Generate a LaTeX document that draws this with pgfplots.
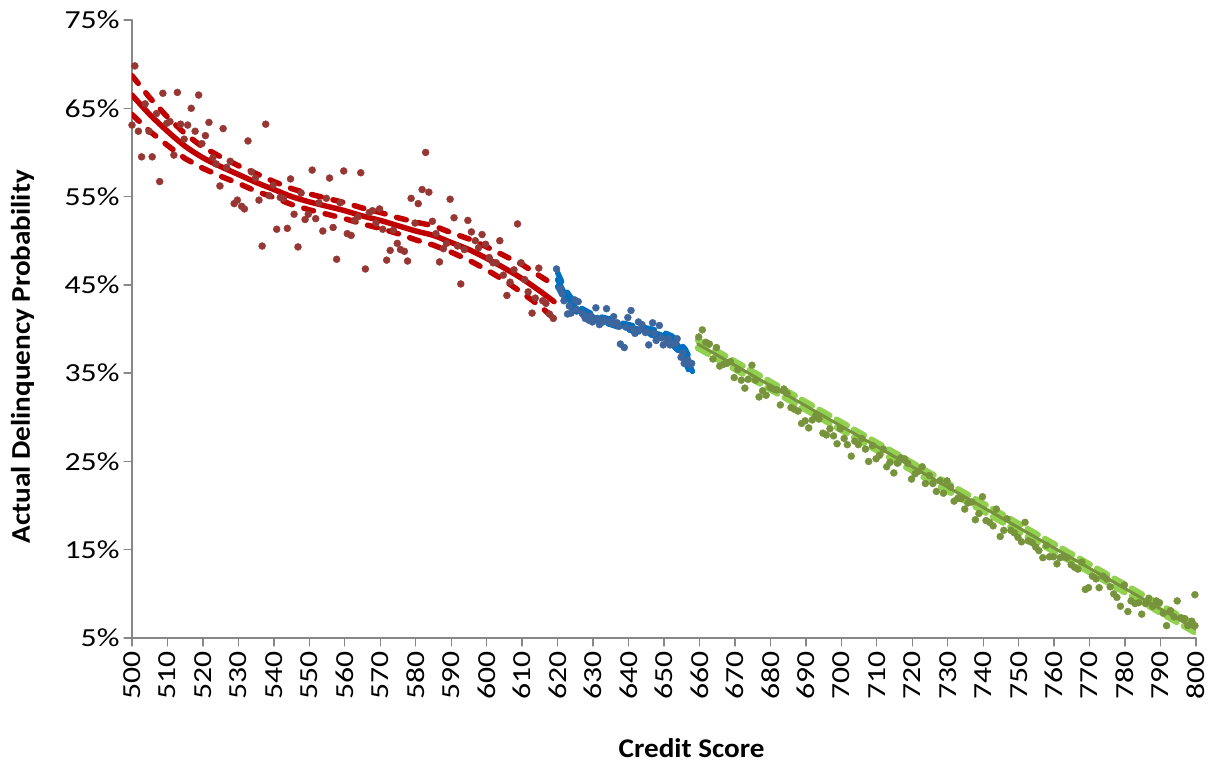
\documentclass[border=0pt]{standalone}
\usepackage{fontspec}
\setmainfont{Carlito}
\newfontfamily\tickfont{Carlito}[FakeStretch=1.22]
\newfontfamily\labfont{Carlito}[FakeStretch=1.08]
\usepackage{pgfplots}
\pgfplotsset{compat=1.18}
\usepackage{pgfplotstable}

\definecolor{redpt}{RGB}{150,55,52}
\definecolor{redln}{RGB}{192,0,0}
\definecolor{bluept}{RGB}{62,102,158}
\definecolor{blueln}{RGB}{0,112,192}
\definecolor{greenpt}{RGB}{119,147,60}
\definecolor{greenln}{RGB}{146,208,80}

% scatter: credit score vs actual delinquency (%)
\pgfplotstableread{
x y
500.0 63.1
500.8 69.8
501.8 62.4
502.7 59.5
503.7 65.5
504.8 62.4
505.7 59.5
506.9 64.4
507.8 56.7
508.7 66.7
509.8 63.3
510.7 63.5
511.8 59.7
512.8 66.8
513.7 63.2
514.7 61.5
515.7 63.1
516.7 65.0
517.8 62.4
518.8 66.5
519.7 61.0
520.7 61.9
521.7 63.4
522.8 59.4
523.7 58.7
524.8 56.2
525.7 62.7
526.7 58.3
527.7 59.0
528.8 54.2
529.7 54.6
530.9 53.9
531.7 53.6
532.7 61.3
533.7 57.8
534.8 57.1
535.8 54.6
536.7 49.4
537.7 63.2
538.7 55.1
539.8 56.3
540.8 51.3
541.8 54.9
542.7 54.8
543.8 51.4
544.7 57.0
545.7 53.0
546.8 49.3
547.7 55.4
548.8 52.4
549.7 53.0
550.8 58.0
551.8 52.5
552.7 54.3
553.8 51.1
554.8 54.8
555.7 57.1
556.7 51.5
557.7 47.9
558.7 54.3
559.7 57.9
560.7 50.8
561.8 50.6
562.7 52.3
563.7 52.7
564.5 57.7
565.8 46.8
566.9 53.2
567.8 53.4
568.8 52.0
569.8 53.6
570.7 51.3
571.8 47.8
572.8 48.9
573.7 51.2
574.8 49.7
575.7 49.0
576.8 48.8
577.7 47.7
578.7 54.8
579.8 52.0
580.7 54.2
581.8 55.8
582.8 60.0
583.7 55.5
584.7 52.2
585.7 50.8
586.7 47.6
587.8 49.1
588.7 49.7
589.7 54.7
590.8 52.6
591.8 49.4
592.7 45.1
593.7 49.0
594.7 52.3
595.7 51.0
596.8 50.0
597.7 49.2
598.7 50.7
599.7 49.6
600.7 48.1
601.8 47.5
602.7 47.5
603.7 50.0
604.7 46.1
605.7 43.8
606.6 45.3
607.7 46.7
608.7 51.9
609.7 47.5
610.7 45.6
611.7 44.2
612.8 41.8
613.7 43.5
614.7 46.9
615.8 43.2
616.7 42.9
617.7 41.7
618.8 41.2
}\redpts

\pgfplotstableread{
x y
619.7 46.8
620.7 44.6
621.3 44.0
621.8 43.2
622.8 41.7
623.3 42.6
623.8 41.8
624.8 43.3
625.3 42.2
625.8 43.1
626.9 41.8
627.3 41.6
627.8 41.2
628.8 41.0
629.3 41.5
629.8 40.8
630.8 42.4
631.3 41.2
631.8 40.5
632.8 40.8
633.3 41.0
633.8 42.3
634.8 40.8
635.3 40.6
635.8 41.4
636.8 40.7
637.3 40.3
637.7 38.3
638.8 37.9
639.3 40.2
639.8 41.3
640.7 42.1
641.3 40.0
641.8 39.5
642.8 40.8
643.3 39.9
643.8 40.5
644.8 39.6
645.3 39.7
645.7 38.2
646.8 40.7
647.3 39.5
647.8 38.7
648.7 40.4
649.3 39.0
649.8 38.2
650.8 38.5
651.3 38.9
651.7 38.2
652.8 38.3
653.3 38.4
653.7 38.9
654.8 36.8
655.3 37.3
655.7 36.1
656.7 36.5
657.3 36.0
657.8 36.1
}\bluepts

\pgfplotstableread{
x y
659.8 39.1
660.8 39.9
661.8 38.5
662.8 38.3
663.8 36.6
664.8 37.9
665.7 35.8
666.8 36.0
667.7 36.1
668.7 36.3
669.8 34.5
670.8 35.4
671.8 34.2
672.8 33.3
673.7 34.3
674.8 35.9
675.8 34.2
676.8 32.3
677.8 33.0
678.8 32.5
679.9 33.4
680.8 33.2
681.8 33.1
682.8 31.4
683.8 33.2
684.7 32.7
685.8 31.1
686.8 30.9
687.8 30.7
688.8 29.3
689.8 29.6
690.8 28.8
691.8 29.7
692.8 30.2
693.7 29.8
694.8 28.2
695.8 28.0
696.8 28.7
697.8 27.9
698.8 27.0
699.7 28.7
700.8 27.6
701.7 26.9
702.8 25.6
703.8 27.3
704.8 26.9
705.8 27.6
706.8 26.4
707.7 25.0
708.8 26.8
709.8 25.3
710.8 25.7
711.8 26.4
712.8 24.4
713.7 24.9
714.8 23.7
715.8 24.8
716.8 25.4
717.8 25.3
718.7 24.8
719.8 23.0
720.8 23.6
721.8 23.9
722.8 24.4
723.7 22.5
724.8 23.4
725.8 22.5
726.8 21.6
727.8 22.8
728.8 21.4
729.8 22.8
730.8 22.1
731.8 20.5
732.8 20.8
733.8 20.8
734.8 19.6
735.7 20.3
736.8 20.4
737.8 18.4
738.8 19.1
739.8 21.0
740.8 18.3
741.8 18.1
742.8 17.7
743.7 19.6
744.8 16.5
745.8 17.2
746.7 18.5
747.8 17.2
748.8 16.9
749.8 16.4
750.8 15.9
751.8 18.1
752.7 16.0
753.8 15.8
754.8 15.3
755.7 14.9
756.8 14.1
757.8 15.5
758.7 14.2
759.8 14.2
760.8 13.4
761.7 14.1
762.8 14.2
763.7 14.1
764.8 13.3
765.8 13.0
766.7 12.8
767.8 13.6
768.8 10.5
769.7 10.7
770.8 12.0
771.8 11.7
772.7 10.7
773.8 12.0
774.8 11.7
775.8 10.8
776.8 10.0
777.7 9.6
778.7 8.6
779.8 11.0
780.8 8.0
781.7 9.2
782.8 8.9
783.8 9.0
784.7 7.7
785.8 8.9
786.7 9.5
787.8 8.6
788.8 9.2
789.7 9.0
790.8 7.8
791.7 6.4
792.8 8.1
793.8 7.4
794.7 9.2
795.8 7.3
796.8 7.2
797.7 6.4
798.8 6.9
799.7 9.9
799.7 6.4
}\greenpts

% fitted curves with band limits
\pgfplotstableread{
x y lo hi
500 66.5 64.3 68.7
505 64.3 62.4 66.2
510 62.4 60.8 64.0
515 60.7 59.3 62.1
520 59.4 58.2 60.6
525 58.4 57.3 59.5
530 57.5 56.5 58.5
535 56.6 55.6 57.6
540 55.8 54.9 56.7
545 55.0 54.1 55.9
550 54.4 53.5 55.3
555 53.9 53.0 54.8
560 53.4 52.5 54.3
565 52.8 51.9 53.7
570 52.3 51.4 53.2
575 51.7 50.8 52.6
580 51.1 50.1 52.1
585 50.6 49.5 51.7
590 49.8 48.7 50.9
595 49.0 47.8 50.2
600 48.0 46.7 49.3
605 46.9 45.5 48.3
610 45.7 44.1 47.3
615 44.3 42.6 46.0
619 43.1 41.2 45.0
}\redfit

\pgfplotstableread{
x y lo hi
620 45.6 44.8 46.4
622 44.0 43.4 44.6
624 42.9 42.4 43.4
626 42.1 41.7 42.5
629 41.5 41.15 41.85
632 41.1 40.8 41.4
635 40.8 40.5 41.1
638 40.4 40.1 40.7
641 40.1 39.8 40.4
644 39.9 39.6 40.2
647 39.6 39.25 39.95
650 39.2 38.8 39.6
652 38.8 38.35 39.25
654 38.1 37.55 38.65
656 37.0 36.3 37.7
658 35.2 34.3 36.1
}\bluefit

\pgfplotstableread{
x y lo hi
659.5 38.3 37.85 38.75
800 6.0 5.55 6.45
}\greenfit

\begin{document}
\begin{tikzpicture}
\useasboundingbox (-132pt,-128pt) rectangle (1082pt,638pt);
\begin{axis}[
  scale only axis, width=1064pt, height=618pt,
  xmin=500, xmax=800, ymin=5, ymax=75,
  axis x line*=bottom, axis y line*=left,
  axis line style={draw=black!47, line width=1.3pt, -},
  xtick={500,510,...,800}, ytick={5,15,...,75},
  tick align=outside, major tick length=8pt,
  tick style={draw=black!47, line width=1.3pt},
  /pgf/number format/assume math mode=true,
  /pgf/number format/1000 sep={},
  yticklabel={\pgfmathprintnumber{\tick}\%},
  every tick label/.append style={font=\tickfont\fontsize{26}{30}\selectfont},
  xticklabel style={rotate=90, anchor=east, xshift=-2pt},
  yticklabel style={xshift=-1pt},
  xlabel={Credit Score}, ylabel={Actual Delinquency Probability},
  label style={font=\labfont\bfseries\fontsize{27}{32}\selectfont},
  xlabel style={at={(axis description cs:0.526,-0.178)}, anchor=center},
  ylabel style={at={(axis description cs:-0.103,0.455)}, anchor=center},
  line cap=round,
]
% fits first, dots on top
\addplot[redln, line width=5.5pt, dash pattern=on 10pt off 12pt] table[x=x, y=hi] {\redfit};
\addplot[redln, line width=5.5pt, dash pattern=on 10pt off 12pt] table[x=x, y=lo] {\redfit};
\addplot[redln, line width=5.5pt, smooth] table[x=x, y=y] {\redfit};
\addplot[blueln, line width=5.5pt, dash pattern=on 10pt off 12pt] table[x=x, y=hi] {\bluefit};
\addplot[blueln, line width=5.5pt, dash pattern=on 10pt off 12pt] table[x=x, y=lo] {\bluefit};
\addplot[blueln, line width=5.5pt, smooth] table[x=x, y=y] {\bluefit};
\addplot[greenln, line width=6pt, dash pattern=on 12pt off 8pt] table[x=x, y=hi] {\greenfit};
\addplot[greenln, line width=6pt, dash pattern=on 12pt off 8pt] table[x=x, y=lo] {\greenfit};
\addplot[greenpt, line width=3pt] table[x=x, y=y] {\greenfit};
\addplot[only marks, mark=*, mark size=3.5pt, redpt, mark options={draw=none, fill=redpt}] table {\redpts};
\addplot[only marks, mark=*, mark size=3.5pt, bluept, mark options={draw=none, fill=bluept}] table {\bluepts};
\addplot[only marks, mark=*, mark size=3.5pt, greenpt, mark options={draw=none, fill=greenpt}] table {\greenpts};
\end{axis}
\end{tikzpicture}
\end{document}
